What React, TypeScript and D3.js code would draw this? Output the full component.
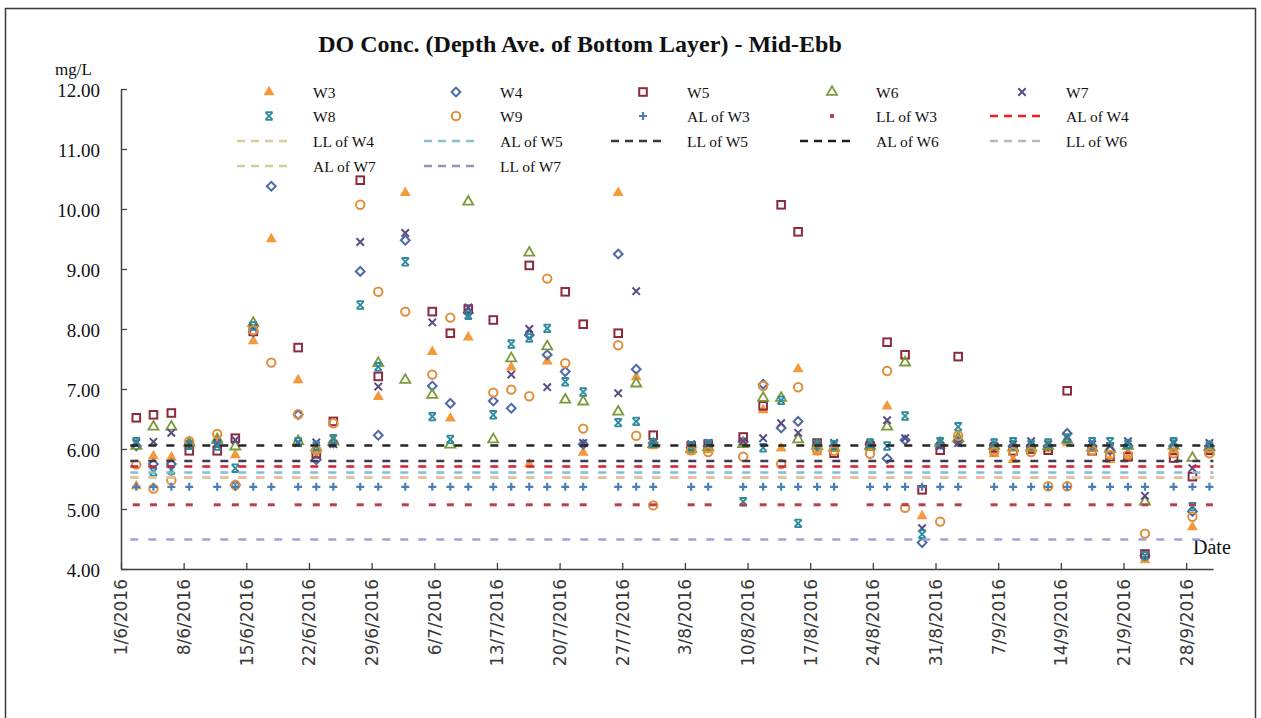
import { useEffect, useRef } from 'react'
import * as d3 from 'd3'

// sampling times (mid-ebb)
const sampleTimes = [
  '2016-06-02 17:00', '2016-06-04 15:00', '2016-06-06 15:00', '2016-06-08 15:00',
  '2016-06-11 18:00', '2016-06-13 18:30', '2016-06-15 18:40', '2016-06-17 19:00',
  '2016-06-20 19:00', '2016-06-22 19:40', '2016-06-24 17:20', '2016-06-27 17:30',
  '2016-06-29 17:45', '2016-07-02 18:15', '2016-07-05 18:40', '2016-07-07 19:00',
  '2016-07-09 19:10', '2016-07-12 14:10', '2016-07-14 14:25', '2016-07-16 14:40',
  '2016-07-18 14:50', '2016-07-20 15:10', '2016-07-22 15:20', '2016-07-26 13:10',
  '2016-07-28 13:25', '2016-07-30 11:00', '2016-08-03 16:50', '2016-08-05 14:25',
  '2016-08-09 12:15', '2016-08-11 17:45', '2016-08-13 18:00', '2016-08-15 15:35',
  '2016-08-17 18:30', '2016-08-19 16:05', '2016-08-23 16:30', '2016-08-25 14:10',
  '2016-08-27 14:25', '2016-08-29 12:00', '2016-08-31 12:30', '2016-09-02 12:45',
  '2016-09-06 13:10', '2016-09-08 16:05', '2016-09-10 16:20', '2016-09-12 14:00',
  '2016-09-14 17:00', '2016-09-17 12:00', '2016-09-19 12:00', '2016-09-21 12:00',
  '2016-09-23 09:35', '2016-09-26 14:25', '2016-09-28 16:50', '2016-09-30 14:25',
]

const W3 = [5.38, 5.88, 5.86, 6.05, 6.18, 5.9, 7.8, 9.5, 7.15, 5.97, 6.15, null, 6.87, 10.27, 7.62, 6.51, 7.86, null, 7.36, 5.75, 7.46, null, 5.94, 10.27, 7.2, 6.05, 5.96, 5.98, 6.1, 6.65, 6.01, 7.33, 5.95, 6.0, 6.03, 6.71, null, 4.88, 6.05, 6.15, 5.92, 5.82, 5.97, 6.0, 6.1, 6.0, 5.82, 5.86, 4.15, 5.95, 4.7, 5.95]
const W4 = [6.05, 5.75, 5.75, 6.08, 6.12, 5.4, 7.95, 10.38, 6.57, 5.82, 6.1, 8.96, 6.23, 9.48, 7.05, 6.76, 8.27, 6.8, 6.68, 7.9, 7.57, 7.29, 6.08, 9.25, 7.33, 6.1, 6.02, 6.05, 6.12, 7.08, 6.35, 6.46, 6.05, 6.05, 6.08, 5.84, 6.15, 4.44, 6.08, 6.12, 6.05, 6.05, 6.05, 6.05, 6.26, 6.05, 5.98, 6.05, 4.22, 6.05, 4.96, 6.05]
const W5 = [6.52, 6.57, 6.6, 5.97, 5.97, 6.18, 7.96, null, 7.69, 5.92, 6.46, 10.48, 7.21, null, 8.29, 7.93, 8.33, 8.15, null, 9.06, null, 8.62, 8.08, 7.93, null, 6.23, 6.05, 6.08, 6.2, 6.72, 10.07, 9.62, 6.1, 5.93, 6.05, 7.78, 7.57, 5.32, 5.98, 7.54, 6.02, 5.97, 6.0, 5.98, 6.97, 5.97, 5.88, 5.87, 4.25, 5.85, 5.54, 5.98]
const W6 = [6.05, 6.37, 6.37, 6.1, 6.15, 6.04, 8.1, null, 6.13, 6.02, 6.12, null, 7.43, 7.15, 6.9, 6.07, 10.12, 6.16, 7.51, 9.27, 7.71, 6.82, 6.79, 6.62, 7.09, 6.08, 6.0, 6.03, 6.08, 6.85, 6.85, 6.16, 6.05, 6.02, 6.05, 6.37, 7.44, null, 6.1, 6.18, 6.05, 6.02, 6.02, 6.05, 6.15, 6.02, 6.0, 6.05, 5.12, 6.05, 5.85, 6.03]
const W7 = [6.1, 6.12, 6.27, 6.08, 6.1, 6.15, 8.02, null, 6.1, 6.11, 6.08, 9.45, 7.04, 9.6, 8.11, null, 8.36, null, 7.24, 8.0, 7.03, null, 6.1, 6.93, 8.63, 6.12, 6.08, 6.1, 6.13, 6.18, 6.43, 6.27, 6.08, 6.1, 6.08, 6.48, 6.18, 4.68, 6.05, 6.1, 6.05, 6.08, 6.13, 6.08, 6.2, 6.08, 6.05, 6.13, 5.22, 6.1, 5.68, 6.1]
const W8 = [6.12, 5.62, 5.65, 6.06, 6.05, 5.68, 8.05, null, 6.12, 6.05, 6.17, 8.4, 7.37, 9.12, 6.54, 6.16, 8.23, 6.57, 7.75, 7.85, 8.01, 7.12, 6.95, 6.44, 6.46, 6.1, 6.05, 6.08, 5.12, 6.02, 6.81, 4.76, 6.08, 6.07, 6.1, 6.05, 6.55, 4.58, 6.12, 6.37, 6.1, 6.12, 6.08, 6.1, 6.18, 6.12, 6.12, 6.08, 4.22, 6.12, 5.04, 6.05]
const W9 = [5.74, 5.34, 5.48, 6.13, 6.25, 5.4, 7.98, 7.44, 6.58, 5.98, 6.43, 10.07, 8.62, 8.29, 7.24, 8.19, null, 6.94, 6.99, 6.88, 8.84, 7.43, 6.34, 7.73, 6.22, 5.06, 5.98, 5.95, 5.87, 7.05, 5.75, 7.03, 5.98, 5.97, 5.92, 7.3, 5.02, null, 4.79, 6.22, 5.95, 5.95, 5.95, 5.38, 5.38, 5.97, 5.9, 5.9, 4.59, 5.93, 4.87, 5.93]

const stationNames = ['W3', 'W4', 'W5', 'W6', 'W7', 'W8', 'W9']
const stationValues = [W3, W4, W5, W6, W7, W8, W9]

const limitNames = ['AL of W3', 'LL of W3', 'AL of W4', 'LL of W4', 'AL of W5', 'LL of W5', 'AL of W6', 'LL of W6', 'AL of W7', 'LL of W7']
const limitValues = [5.37, 5.07, 5.71, 5.52, 5.61, 5.8, 6.06, 5.53, 5.53, 4.49]

const yTicks = [4, 5, 6, 7, 8, 9, 10, 11, 12]

const stationStyle: Record<string, { shape: string; color: string }> = {
  W3: { shape: 'triangle', color: '#f59a3c' },
  W4: { shape: 'diamond', color: '#4d6aa8' },
  W5: { shape: 'square', color: '#8e2a3e' },
  W6: { shape: 'triangleOpen', color: '#7b9a3a' },
  W7: { shape: 'x', color: '#5a4a86' },
  W8: { shape: 'star', color: '#2e8a9e' },
  W9: { shape: 'circle', color: '#e08e3c' },
}

const limitStyle: Record<string, { kind: string; shape?: string; color: string; legendColor?: string }> = {
  'AL of W3': { kind: 'marker', shape: 'plus', color: '#4a7fb5' },
  'LL of W3': { kind: 'marker', shape: 'dash', color: '#b8404e' },
  'AL of W4': { kind: 'line', color: '#d42030', legendColor: '#ff1a1a' },
  'LL of W4': { kind: 'line', color: '#e3c79b', legendColor: '#d8cc9c' },
  'AL of W5': { kind: 'line', color: '#8bbad6', legendColor: '#8cc0c8' },
  'LL of W5': { kind: 'line', color: '#3b3b55', legendColor: '#3a3a3a' },
  'AL of W6': { kind: 'line', color: '#262626', legendColor: '#202020' },
  'LL of W6': { kind: 'line', color: '#c0c0c0', legendColor: '#b8b8bc' },
  'AL of W7': { kind: 'line', color: '#e0c898', legendColor: '#d4cc98' },
  'LL of W7': { kind: 'line', color: '#9aa4dc', legendColor: '#8a9ab4' },
}

type G = d3.Selection<SVGGElement, unknown, null, undefined>

function drawMarker(g: G, shape: string, color: string, cx: number, cy: number) {
  const t = `translate(${cx},${cy})`
  switch (shape) {
    case 'triangle':
      g.append('path').attr('d', d3.symbol(d3.symbolTriangle, 52)()).attr('transform', t).attr('fill', color)
      break
    case 'triangleOpen':
      g.append('path').attr('d', d3.symbol(d3.symbolTriangle, 44)()).attr('transform', t)
        .attr('fill', 'none').attr('stroke', color).attr('stroke-width', 1.8)
      break
    case 'diamond':
      g.append('path').attr('d', 'M0,-4.4L4.4,0L0,4.4L-4.4,0Z').attr('transform', t)
        .attr('fill', 'none').attr('stroke', color).attr('stroke-width', 2)
      break
    case 'square':
      g.append('rect').attr('x', cx - 3.8).attr('y', cy - 3.8).attr('width', 7.6).attr('height', 7.6)
        .attr('fill', 'none').attr('stroke', color).attr('stroke-width', 2)
      break
    case 'x':
      g.append('path').attr('d', 'M-3.7,-3.7L3.7,3.7M-3.7,3.7L3.7,-3.7').attr('transform', t)
        .attr('stroke', color).attr('stroke-width', 2)
      break
    case 'star':
      g.append('path').attr('d', 'M-3.6,-3.6L3.6,3.6M-3.6,3.6L3.6,-3.6M-3.6,-3.8H3.6M-3.6,3.8H3.6').attr('transform', t)
        .attr('stroke', color).attr('stroke-width', 1.8)
      break
    case 'circle':
      g.append('circle').attr('cx', cx).attr('cy', cy).attr('r', 4.2)
        .attr('fill', 'none').attr('stroke', color).attr('stroke-width', 2)
      break
    case 'plus':
      g.append('path').attr('d', 'M-4,0H4M0,-4V4').attr('transform', t)
        .attr('stroke', color).attr('stroke-width', 2.2)
      break
    case 'dash':
      g.append('rect').attr('x', cx - 3.5).attr('y', cy - 1.5).attr('width', 7).attr('height', 3).attr('fill', color)
      break
  }
}

export default function App() {
  const svgRef = useRef<SVGSVGElement>(null)

  useEffect(() => {
    if (!svgRef.current) return
    document.body.style.margin = '0'
    const svg = d3.select(svgRef.current)
    svg.selectAll('*').remove()

    const parseTime = d3.timeParse('%Y-%m-%d %H:%M')
    const dates = sampleTimes.map(s => parseTime(s) as Date)

    const x = d3.scaleTime()
      .domain([new Date(2016, 5, 1), new Date(2016, 9, 1)])
      .range([121, 1213])
    const y = d3.scaleLinear().domain([4, 12]).range([569, 89])

    // outer frame
    svg.append('rect')
      .attr('x', 5.5).attr('y', 8.5).attr('width', 1250).attr('height', 760)
      .attr('fill', '#fff').attr('stroke', '#3a3a3a').attr('stroke-width', 1.5)

    svg.append('text')
      .attr('x', 580).attr('y', 52)
      .attr('text-anchor', 'middle')
      .attr('font-family', 'Liberation Serif')
      .attr('font-weight', 'bold')
      .attr('font-size', '24px')
      .attr('fill', '#111')
      .text('DO Conc. (Depth Ave. of Bottom Layer) - Mid-Ebb')

    svg.append('text')
      .attr('x', 55).attr('y', 75)
      .attr('font-family', 'Liberation Serif')
      .attr('font-size', '17px')
      .attr('fill', '#111')
      .text('mg/L')

    // axes
    const yAxis = d3.axisLeft(y)
      .tickValues(yTicks)
      .tickFormat(d => d3.format('.2f')(d as number))
      .tickSizeInner(-6)
      .tickSizeOuter(0)
      .tickPadding(21)
    const yg = svg.append('g').attr('transform', 'translate(121,0)').call(yAxis)
    yg.select('.domain').attr('stroke', '#404040').attr('stroke-width', 1.5)
    yg.selectAll('.tick line').attr('stroke', '#404040').attr('stroke-width', 1.3)
    yg.selectAll('text')
      .attr('font-family', 'Liberation Serif')
      .attr('font-size', '19px')
      .attr('dy', '0.4em')
      .attr('fill', '#111')

    const weekTicks = d3.range(0, 18).map(i => d3.timeDay.offset(new Date(2016, 5, 1), i * 7))
    const xAxis = d3.axisBottom(x)
      .tickValues(weekTicks)
      .tickFormat(d => {
        const dt = d as Date
        return `${dt.getDate()}/${dt.getMonth() + 1}/${dt.getFullYear()}`
      })
      .tickSizeInner(-6)
      .tickSizeOuter(0)
    const xg = svg.append('g').attr('transform', 'translate(0,569)').call(xAxis)
    xg.select('.domain').attr('stroke', '#404040').attr('stroke-width', 1.5)
    xg.selectAll('.tick line').attr('stroke', '#404040').attr('stroke-width', 1.3)
    xg.selectAll('text')
      .attr('transform', 'rotate(-90)')
      .attr('text-anchor', 'end')
      .attr('x', -10)
      .attr('y', 0)
      .attr('dy', '0.35em')
      .attr('font-family', 'DejaVu Sans')
      .attr('font-size', '17px')
      .attr('fill', '#3a3a3a')

    svg.append('text')
      .attr('x', 1193).attr('y', 554)
      .attr('font-family', 'Liberation Serif')
      .attr('font-size', '20px')
      .attr('fill', '#111')
      .text('Date')

    const plot = svg.append('g')

    // station markers
    stationNames.forEach((name, si) => {
      const st = stationStyle[name]
      const vals = stationValues[si]
      const g = plot.append('g')
      dates.forEach((dt, i) => {
        const v = vals[i]
        if (v == null) return
        drawMarker(g, st.shape, st.color, x(dt), y(v))
      })
    })

    // limit series
    const xStart = x(dates[0])
    const xEnd = x(dates[dates.length - 1])
    limitNames.forEach((name, li) => {
      const st = limitStyle[name]
      const v = limitValues[li]
      const g = plot.append('g')
      if (st.kind === 'marker') {
        dates.forEach(dt => drawMarker(g, st.shape as string, st.color, x(dt), y(v)))
      } else {
        g.append('line')
          .attr('x1', xStart - 6).attr('x2', xEnd + 4)
          .attr('y1', y(v)).attr('y2', y(v))
          .attr('stroke', st.color)
          .attr('stroke-width', 2.5)
          .attr('stroke-dasharray', '8 10')
      }
    })

    // legend
    const legendNames = [...stationNames, ...limitNames]
    const colX = [313, 500, 687, 876, 1066]
    const rowY = [92, 116, 141, 166]
    const lg = svg.append('g')
    legendNames.forEach((name, i) => {
      const tx = colX[i % 5]
      const ty = rowY[Math.floor(i / 5)]
      const g = lg.append('g')
      if (stationStyle[name]) {
        drawMarker(g, stationStyle[name].shape, stationStyle[name].color, tx - 44, ty)
      } else {
        const st = limitStyle[name]
        if (st.kind === 'marker') {
          if (st.shape === 'dash') {
            g.append('rect').attr('x', tx - 46).attr('y', ty - 2).attr('width', 4).attr('height', 4).attr('fill', st.color)
          } else {
            drawMarker(g, st.shape as string, st.color, tx - 44, ty)
          }
        } else {
          g.append('line')
            .attr('x1', tx - 76).attr('x2', tx - 20)
            .attr('y1', ty).attr('y2', ty)
            .attr('stroke', st.legendColor || st.color)
            .attr('stroke-width', 2.5)
            .attr('stroke-dasharray', '8 6')
        }
      }
      g.append('text')
        .attr('x', tx).attr('y', ty)
        .attr('dominant-baseline', 'central')
        .attr('font-family', 'Liberation Serif')
        .attr('font-size', '15.5px')
        .attr('fill', '#111')
        .text(name)
    })
  }, [])

  return (
    <svg
      ref={svgRef}
      width={1261}
      height={718}
      style={{ display: 'block', position: 'absolute', left: 0, top: 0, background: '#fff' }}
    />
  )
}
